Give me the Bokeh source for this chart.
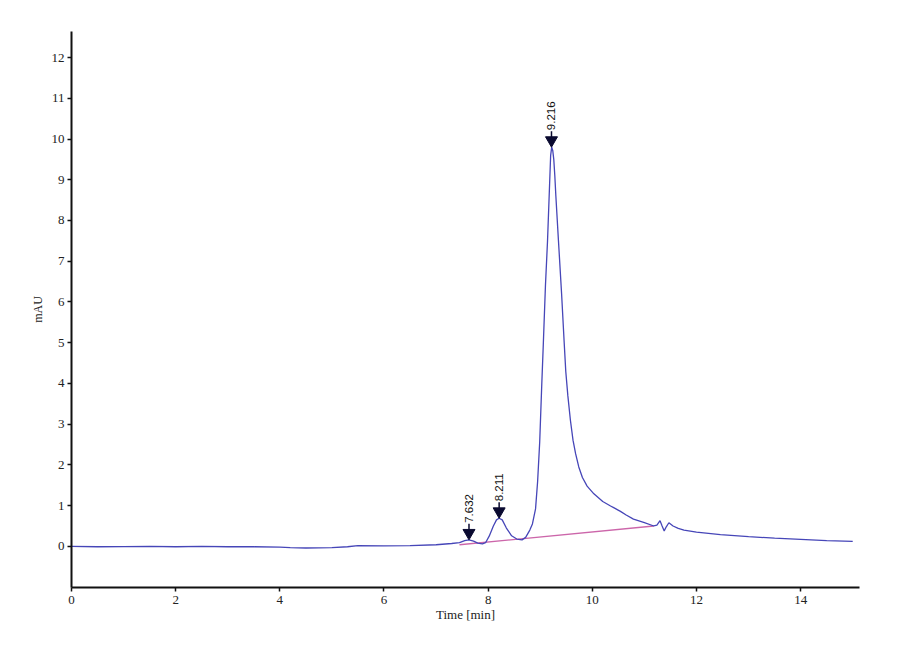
import math
from bokeh.plotting import figure
from bokeh.models import Range1d, FixedTicker
from bokeh.core.properties import value
from bokeh.embed import file_html
from bokeh.resources import INLINE

# ---- data ----
time_min = [0.0, 0.5, 1.0, 1.5, 2.0, 2.5, 3.0, 3.5, 4.0, 4.2, 4.5, 5.0, 5.3, 5.5,
            6.0, 6.5, 7.0, 7.3, 7.45, 7.55, 7.63, 7.72, 7.8, 7.89, 7.95, 8.02,
            8.1, 8.16, 8.21, 8.27, 8.35, 8.45, 8.55, 8.65, 8.72, 8.8, 8.85, 8.91,
            8.95, 8.99, 9.03, 9.06, 9.1, 9.14, 9.18, 9.2, 9.22, 9.24, 9.26, 9.28,
            9.3, 9.35, 9.41, 9.46, 9.49, 9.53, 9.58, 9.63, 9.68, 9.74, 9.81,
            9.9, 10.03, 10.2, 10.35, 10.41, 10.54, 10.65,
            10.79, 11.0, 11.18, 11.24, 11.3, 11.34, 11.38, 11.42, 11.47, 11.55,
            11.65, 11.76, 12.0, 12.46, 13.0, 13.5, 14.0, 14.5, 15.0]
signal_mau = [0.0, -0.01, -0.005, 0.0, -0.01, 0.0, -0.01, -0.01, -0.02, -0.03,
              -0.04, -0.03, -0.01, 0.02, 0.01, 0.02, 0.04, 0.07, 0.09, 0.14, 0.16,
              0.13, 0.08, 0.06, 0.09, 0.25, 0.5, 0.65, 0.69, 0.65, 0.45, 0.26,
              0.18, 0.16, 0.22, 0.4, 0.55, 0.92, 1.6, 2.57, 4.0, 5.0, 6.4, 7.5,
              8.9, 9.6, 9.8, 9.72, 9.5, 9.1, 8.6, 7.5, 6.2, 5.0, 4.3, 3.7, 3.09,
              2.6, 2.27, 1.95, 1.69, 1.48, 1.29, 1.1, 0.99, 0.95, 0.86, 0.77,
              0.67, 0.58, 0.5, 0.52, 0.63, 0.5, 0.38, 0.48,
              0.58, 0.5, 0.44, 0.4, 0.35, 0.29, 0.24, 0.2, 0.17, 0.14, 0.12]

baseline_t = [7.45, 11.18]
baseline_v = [0.04, 0.50]

peak_times = [7.632, 8.211, 9.216]
peak_heights = [0.16, 0.69, 9.80]
peak_labels = ["7.632", "8.211", "9.216"]

x_ticks = [0, 2, 4, 6, 8, 10, 12, 14]
y_ticks = list(range(0, 13))

# ---- layout ----
W, H = 884, 640
ML, MR, MT, MB = 71, 25, 31, 53
FRAME_H = H - MT - MB
Y_MIN, Y_MAX = -1.01, 12.64
X_MIN, X_MAX = 0.0, 15.13
PX = (Y_MAX - Y_MIN) / FRAME_H  # data units per pixel

p = figure(width=W, height=H, output_backend="svg", toolbar_location=None,
           x_range=Range1d(X_MIN, X_MAX), y_range=Range1d(Y_MIN, Y_MAX),
           min_border_left=ML, min_border_right=MR, min_border_top=MT,
           min_border_bottom=MB)
p.outline_line_color = None
p.xgrid.visible = False
p.ygrid.visible = False
p.background_fill_color = "white"
p.border_fill_color = "white"

for ax in (p.xaxis[0], p.yaxis[0]):
    ax.axis_line_color = "#111111"
    ax.axis_line_width = 2
    ax.major_tick_line_color = "#111111"
    ax.major_tick_line_width = 1.5
    ax.major_tick_out = 4
    ax.major_tick_in = 0
    ax.minor_tick_line_color = None
    ax.major_label_text_font = "Liberation Serif"
    ax.major_label_text_font_size = "13px"
    ax.major_label_text_color = "#222222"
    ax.axis_label_text_font = "Liberation Serif"
    ax.axis_label_text_font_style = "normal"
    ax.axis_label_text_color = "#222222"

p.xaxis.ticker = FixedTicker(ticks=x_ticks)
p.yaxis.ticker = FixedTicker(ticks=y_ticks)
p.xaxis.axis_label = "Time [min]"
p.yaxis.axis_label = "mAU"
p.xaxis.axis_label_text_font_size = "13px"
p.yaxis.axis_label_text_font_size = "12px"
p.xaxis.major_label_standoff = 4
p.yaxis.major_label_standoff = 3
p.xaxis.axis_label_standoff = 0
p.yaxis.axis_label_standoff = 4

# baseline and trace
p.line(baseline_t, baseline_v, line_color="#cc66aa", line_width=1.3)
p.line(time_min, signal_mau, line_color="#4646b8", line_width=1.3)

# peak markers
tri_size = 12
tip = tri_size / 2 * math.sqrt(3) * 2 / 3
p.scatter(peak_times, [v + tip * PX for v in peak_heights],
          marker="inverted_triangle", size=tri_size, fill_color="#0a0a30",
          line_color="#0a0a30")
p.segment(x0=peak_times, y0=[v + 10 * PX for v in peak_heights],
          x1=peak_times, y1=[v + 16 * PX for v in peak_heights],
          line_color="#0a0a30", line_width=1.5)
p.text(x=peak_times, y=peak_heights, text=peak_labels, angle=math.pi / 2,
       y_offset=-17, text_align="left", text_baseline="middle",
       text_font=value("Liberation Sans"), text_font_size="11.5px",
       text_color="#111111")

open("out.html", "w").write(file_html(p, INLINE))
